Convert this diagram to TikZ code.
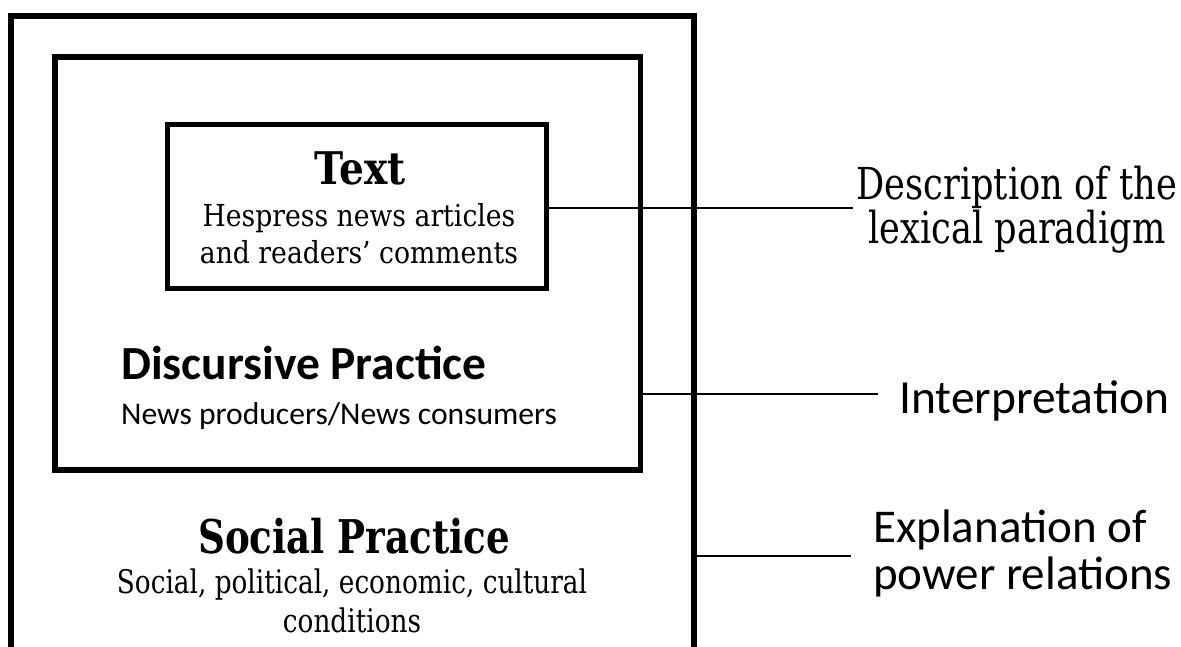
\documentclass[tikz,border=0pt]{standalone}
\usepackage{fontspec}
\setmainfont{Carlito}
% serif faces, narrowed to different degrees
\newfontfamily\titleserif[FakeStretch=0.87]{DejaVu Serif}
\newfontfamily\bodyserif[FakeStretch=0.88]{DejaVu Serif}
\newfontfamily\headserif[FakeStretch=0.8]{DejaVu Serif}
\newfontfamily\condserif[FakeStretch=0.81]{DejaVu Serif}
\newfontfamily\labelserif[FakeStretch=0.8]{DejaVu Serif}

\begin{document}
\begin{tikzpicture}[x=1pt,y=-1pt,
  frame/.style={draw, line width=5.8pt, inner sep=0pt, anchor=center},
  txt/.style={inner sep=0pt, anchor=base},
  conn/.style={line width=1.6pt}]

\useasboundingbox (0,0) rectangle (1181,646);
\clip (0,0) rectangle (1181,646);

% nested levels of the model
\node[frame, minimum width=683pt, minimum height=684pt] (social) at (352.5,358) {};
\node[frame, minimum width=585.5pt, minimum height=413pt] (discursive) at (347.75,263.5) {};
\node[frame, line width=5pt, minimum width=379pt, minimum height=164pt] (textbox) at (356.5,206.5) {};

% innermost level (multi-line nodes sit on their last baseline)
\node[txt, font=\titleserif\bfseries\fontsize{45}{45}\selectfont] (texttitle) at (360,184) {Text};
\node[txt, align=center, font=\bodyserif\fontsize{30.3}{37}\selectfont] (textsub) at (359,263)
  {Hespress news articles\\and readers’ comments};

% middle level
\node[txt, anchor=base west, font=\bfseries\fontsize{47.5}{47.5}\selectfont] (disctitle) at (121,379) {Discursive Practice};
\node[txt, anchor=base west, font=\fontsize{31.6}{31.6}\selectfont] (discsub) at (121,424) {News producers/News consumers};

% outer level
\node[txt, font=\headserif\bfseries\fontsize{46.5}{46.5}\selectfont] (socialtitle) at (354,553) {Social Practice};
\node[txt, align=center, font=\condserif\fontsize{32.5}{39}\selectfont] (socialsub) at (352,632)
  {Social, political, economic, cultural\\conditions};

% analysis stages
\node[txt, align=center, font=\labelserif\fontsize{44}{44}\selectfont] (describe) at (1017,243)
  {Description of the\\lexical paradigm};
\node[txt, anchor=base west, font=\fontsize{47.5}{47.5}\selectfont] (interpret) at (899,413) {Interpretation};
\node[txt, anchor=base west, align=left, font=\fontsize{47}{47}\selectfont] (explain) at (873,589)
  {Explanation of\\power relations};

% leader lines
\coordinate (end1) at (853,208);
\coordinate (end2) at (878,394);
\coordinate (end3) at (851,556);
\draw[conn] (textbox.east |- end1) -- (end1);
\draw[conn] (discursive.east |- end2) -- (end2);
\draw[conn] (social.east |- end3) -- (end3);
\end{tikzpicture}
\end{document}
